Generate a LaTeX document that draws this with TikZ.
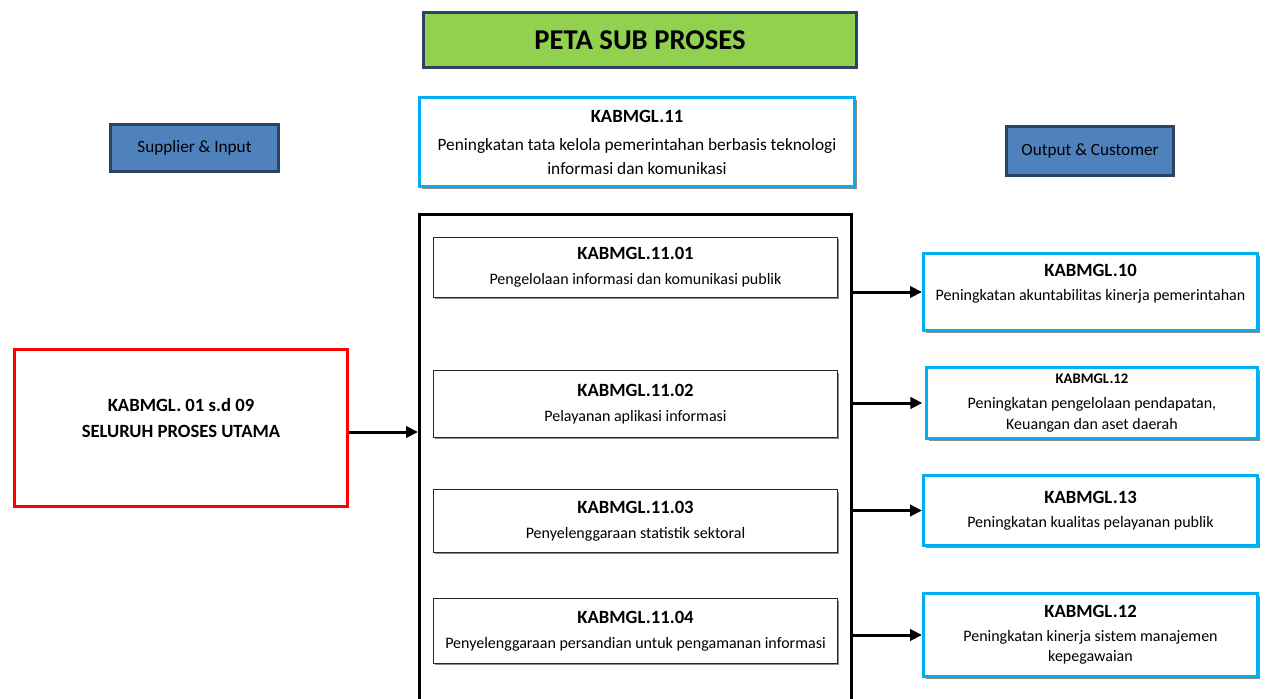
\documentclass[tikz,border=0pt]{standalone}
\usepackage{fontspec}
\setmainfont{Carlito}
\usetikzlibrary{arrows.meta,positioning,shadows}
\definecolor{judulhijau}{RGB}{146,208,80}
\definecolor{garisbiru}{RGB}{0,176,240}
\definecolor{kotakbiru}{RGB}{79,129,189}
\definecolor{garisgelap}{RGB}{44,67,100}
\definecolor{garismerah}{RGB}{255,0,0}

\begin{document}
\begin{tikzpicture}[x=0.75pt,y=-0.75pt]

\tikzset{judul/.style={draw=garisgelap, line width=2.25pt, fill=judulhijau,
    minimum width=324.75pt, minimum height=41.25pt,
    font=\bfseries\fontsize{21.5}{25}\selectfont},
  pihak/.style={draw=garisgelap, line width=2.25pt, fill=kotakbiru,
    minimum height=35.25pt, font=\fontsize{12.9}{15}\selectfont},
  proses/.style={draw=garisbiru, line width=2.25pt, fill=white, align=center,
    drop shadow={shadow xshift=1.8pt, shadow yshift=-1.8pt, fill=black!45, opacity=1}},
  subproses/.style={draw=black!85, line width=1pt, fill=white, align=center,
    minimum width=303pt, font=\fontsize{12}{18.5}\selectfont,
    drop shadow={shadow xshift=1.4pt, shadow yshift=-1.4pt, fill=black!45, opacity=1}},
  kode/.style={font=\bfseries\fontsize{14}{17}\selectfont},
  panah/.style={-{Triangle[length=9pt,width=8.5pt]}, line width=2.25pt}}

\useasboundingbox (0,0) rectangle (1265,699);

\node[judul] (peta) at (640,40) {PETA SUB PROSES};
\node[pihak, minimum width=126pt] (supplier) at (194.5,148) {Supplier \& Input};
\node[pihak, minimum width=125.25pt, minimum height=36.75pt] (customer) at (1090,151) {Output \& Customer};

\node[proses, minimum width=326pt, minimum height=66.75pt, font=\fontsize{13}{18}\selectfont] (induk) at (637,142)
  {{\bfseries\fontsize{14}{17}\selectfont KABMGL.11}\\[3pt]
   Peningkatan tata kelola pemerintahan berbasis teknologi\\
   informasi dan komunikasi};

\node[draw, line width=2.25pt, minimum width=324pt, minimum height=380pt] (wadah) at (635.5,468) {};

\node[subproses, minimum height=45pt] (sub1) at (635.5,267.5)
  {{\bfseries\fontsize{14}{17}\selectfont KABMGL.11.01}\\ Pengelolaan informasi dan komunikasi publik};
\node[subproses, minimum height=50pt] (sub2) at (635.5,404)
  {{\bfseries\fontsize{14}{17}\selectfont KABMGL.11.02}\\ Pelayanan aplikasi informasi};
\node[subproses, minimum height=47pt] (sub3) at (635.5,521)
  {{\bfseries\fontsize{14}{17}\selectfont KABMGL.11.03}\\ Penyelenggaraan statistik sektoral};
\node[subproses, minimum height=48.5pt] (sub4) at (635.5,631)
  {{\bfseries\fontsize{14}{17}\selectfont KABMGL.11.04}\\ Penyelenggaraan persandian untuk pengamanan informasi};

\node[draw=garismerah, line width=2.25pt, fill=white, minimum width=249.75pt, minimum height=117.75pt] (utama) at (181,428) {};
\node[kode, align=center, font=\bfseries\fontsize{14}{19.5}\selectfont] (utamateks) at (181,418)
  {KABMGL. 01 s.d 09\\ SELURUH PROSES UTAMA};

\node[proses, minimum width=250.5pt, minimum height=57.75pt] (k10) at (1090.5,292) {};
\node[align=center, font=\fontsize{12}{18}\selectfont] (k10teks) at (1090.5,284)
  {{\bfseries\fontsize{14}{17}\selectfont KABMGL.10}\\ Peningkatan akuntabilitas kinerja pemerintahan};
\node[proses, minimum width=248.25pt, minimum height=53.25pt, font=\fontsize{12}{15.75}\selectfont] (k12) at (1092,403)
  {{\bfseries\fontsize{11}{13}\selectfont KABMGL.12}\\[3pt] Peningkatan pengelolaan pendapatan,\\ Keuangan dan aset daerah};
\node[proses, minimum width=250.5pt, minimum height=52.5pt, font=\fontsize{12}{18}\selectfont] (k13) at (1090.5,510.5)
  {{\bfseries\fontsize{14}{17}\selectfont KABMGL.13}\\ Peningkatan kualitas pelayanan publik};
\node[proses, minimum width=250.5pt, minimum height=62.25pt, font=\fontsize{12}{15}\selectfont] (k12b) at (1090.5,635)
  {{\bfseries\fontsize{14}{17}\selectfont KABMGL.12}\\[3pt] Peningkatan kinerja sistem manajemen\\ kepegawaian};

\draw[panah] ([yshift=-3pt]utama.east) -- ([yshift=-3pt]utama.east -| wadah.west);
\draw[panah] (wadah.east |- k10.west) -- (k10.west);
\draw[panah] (wadah.east |- k12.west) -- ([xshift=-2pt]k12.west);
\draw[panah] (wadah.east |- k13.west) -- (k13.west);
\draw[panah] (wadah.east |- k12b.west) -- (k12b.west);

\end{tikzpicture}
\end{document}
